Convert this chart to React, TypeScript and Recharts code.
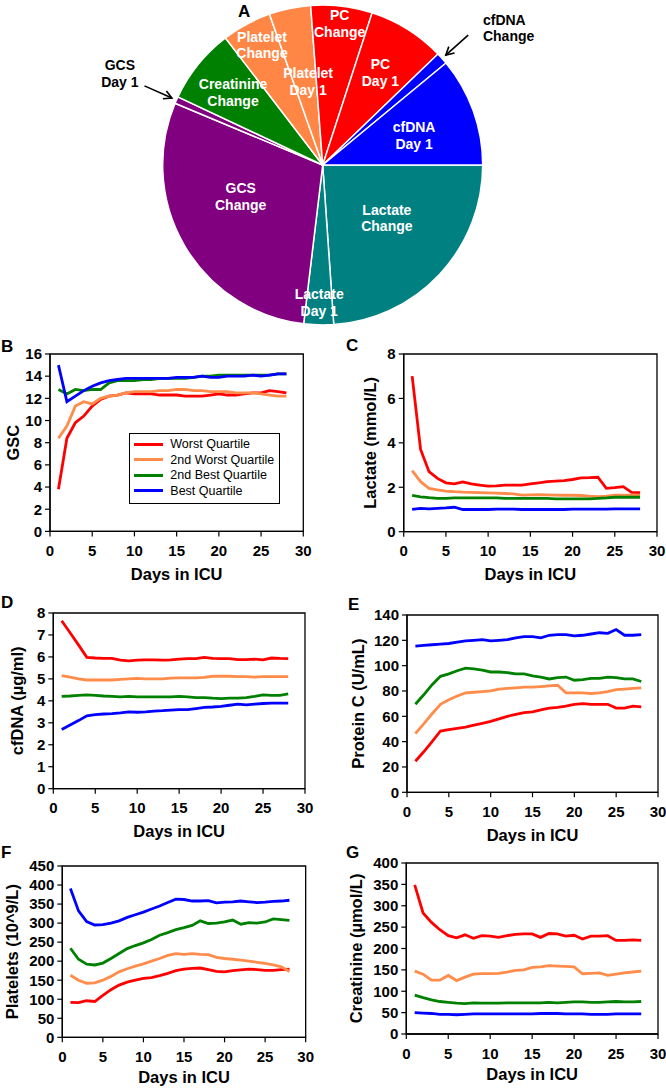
import React from 'react';
import { PieChart, Pie, Cell, LineChart, Line, XAxis, YAxis, ReferenceArea, Legend } from 'recharts';

const FONT = '"Liberation Sans", Arial, Helvetica, sans-serif';

// ---------- Pie (A) ----------
const pieNames = ['Lactate Change', 'Lactate Day 1', 'GCS Change', 'GCS Day 1', 'Creatinine Change', 'Platelet Change', 'Platelet Day 1', 'PC Change', 'PC Day 1', 'cfDNA Change', 'cfDNA Day 1'];
const pieValues = [23.9, 3.0, 29.4, 0.7, 7.6, 5.0, 4.2, 6.2, 7.8, 1.2, 11.0];
const pieColors = ['#008080', '#008080', '#800080', '#800080', '#008000', '#FF8644', '#FF8644', '#FF0000', '#FF0000', '#0000FF', '#0000FF'];

// ---------- Line panels ----------
const days = [1, 2, 3, 4, 5, 6, 7, 8, 9, 10, 11, 12, 13, 14, 15, 16, 17, 18, 19, 20, 21, 22, 23, 24, 25, 26, 27, 28];
const xTicks = [0, 5, 10, 15, 20, 25, 30];
const seriesKeys = ['worst', 'worst2', 'best2', 'best'];
const seriesNames = ['Worst Quartile', '2nd Worst Quartile', '2nd Best Quartile', 'Best Quartile'];
const seriesColors = ['#FF0000', '#FF8C4A', '#008000', '#0000FF'];

// B: GCS
const gcsWorst = [3.8, 8.4, 9.8, 10.4, 11.3, 11.9, 12.2, 12.3, 12.5, 12.4, 12.4, 12.4, 12.3, 12.3, 12.3, 12.2, 12.2, 12.2, 12.3, 12.4, 12.3, 12.3, 12.4, 12.5, 12.5, 12.7, 12.6, 12.5];
const gcsWorst2 = [8.4, 9.5, 11.3, 11.7, 11.5, 12.0, 12.2, 12.3, 12.5, 12.6, 12.6, 12.6, 12.7, 12.7, 12.8, 12.8, 12.7, 12.7, 12.6, 12.6, 12.6, 12.5, 12.5, 12.5, 12.4, 12.3, 12.2, 12.2];
const gcsBest2 = [12.8, 12.4, 12.8, 12.7, 12.8, 12.8, 13.4, 13.6, 13.6, 13.6, 13.7, 13.7, 13.8, 13.8, 13.8, 13.8, 13.9, 14.0, 14.0, 14.1, 14.1, 14.1, 14.1, 14.1, 14.1, 14.1, 14.2, 14.2];
const gcsBest = [15.0, 11.7, 12.2, 12.7, 13.1, 13.4, 13.6, 13.7, 13.8, 13.8, 13.8, 13.8, 13.8, 13.8, 13.9, 13.9, 13.9, 14.0, 13.9, 13.9, 14.0, 14.0, 14.0, 14.1, 14.0, 14.1, 14.2, 14.2];
const gcsTicks = [0, 2, 4, 6, 8, 10, 12, 14, 16];

// C: Lactate
const lacWorst = [7.0, 3.7, 2.7, 2.4, 2.2, 2.15, 2.24, 2.15, 2.1, 2.05, 2.06, 2.1, 2.1, 2.1, 2.15, 2.2, 2.25, 2.28, 2.3, 2.35, 2.42, 2.43, 2.45, 1.95, 1.98, 2.03, 1.77, 1.76];
const lacWorst2 = [2.75, 2.25, 1.95, 1.88, 1.83, 1.8, 1.78, 1.77, 1.76, 1.75, 1.74, 1.72, 1.7, 1.65, 1.66, 1.67, 1.66, 1.65, 1.64, 1.64, 1.63, 1.6, 1.58, 1.6, 1.65, 1.65, 1.65, 1.65];
const lacBest2 = [1.63, 1.57, 1.53, 1.5, 1.5, 1.52, 1.52, 1.52, 1.52, 1.52, 1.52, 1.5, 1.5, 1.5, 1.5, 1.5, 1.5, 1.48, 1.48, 1.48, 1.48, 1.48, 1.5, 1.52, 1.55, 1.55, 1.55, 1.55];
const lacBest = [1.0, 1.05, 1.03, 1.05, 1.07, 1.1, 1.0, 1.0, 1.0, 1.0, 1.02, 1.02, 1.02, 1.0, 1.0, 1.0, 1.0, 1.0, 1.0, 1.02, 1.02, 1.02, 1.02, 1.02, 1.03, 1.03, 1.03, 1.03];
const lacTicks = [0, 2, 4, 6, 8];

// D: cfDNA
const dnaWorst = [7.65, 7.1, 6.55, 5.98, 5.95, 5.93, 5.93, 5.85, 5.82, 5.85, 5.87, 5.87, 5.85, 5.87, 5.9, 5.92, 5.92, 5.98, 5.93, 5.92, 5.92, 5.88, 5.88, 5.9, 5.87, 5.95, 5.93, 5.92];
const dnaWorst2 = [5.15, 5.08, 5.0, 4.95, 4.95, 4.95, 4.95, 4.98, 5.0, 5.02, 5.0, 5.0, 5.0, 5.03, 5.05, 5.05, 5.05, 5.07, 5.12, 5.12, 5.12, 5.1, 5.1, 5.08, 5.1, 5.1, 5.1, 5.1];
const dnaBest2 = [4.2, 4.22, 4.25, 4.27, 4.25, 4.22, 4.2, 4.18, 4.2, 4.18, 4.18, 4.18, 4.18, 4.18, 4.2, 4.18, 4.15, 4.15, 4.12, 4.1, 4.12, 4.12, 4.15, 4.2, 4.27, 4.25, 4.25, 4.32];
const dnaBest = [2.7, 2.9, 3.1, 3.32, 3.37, 3.4, 3.42, 3.45, 3.5, 3.48, 3.5, 3.53, 3.55, 3.58, 3.6, 3.6, 3.65, 3.7, 3.72, 3.75, 3.8, 3.85, 3.82, 3.85, 3.88, 3.9, 3.9, 3.9];
const dnaTicks = [0, 1, 2, 3, 4, 5, 6, 7, 8];

// E: Protein C
const pcWorst = [24.5, 32, 40, 48.4, 49.5, 50.5, 51.5, 53, 54.5, 56, 58, 60, 61.5, 63, 63.5, 65, 66.5, 67, 68, 69.5, 70, 69.5, 69.5, 69.5, 66.5, 66.5, 68, 67.5];
const pcWorst2 = [46.3, 54, 62, 69.5, 73, 76, 78.5, 79, 79.5, 80, 81.5, 82, 82.5, 83, 83, 83.5, 84, 84.5, 78.5, 78.5, 78.5, 78, 78.5, 79.5, 81, 81.5, 82, 82.5];
const pcBest2 = [69.5, 77, 85, 91.6, 93.5, 96, 98, 97.5, 96.5, 95, 95, 94.5, 93.5, 93.5, 92, 91, 89.5, 90.5, 91, 88.5, 89, 90, 90, 91, 90.5, 89.5, 89.5, 87.5];
const pcBest = [115.5, 116, 116.5, 117, 117.5, 118.5, 119.5, 120, 120.5, 119.5, 120, 120.5, 122, 123, 123, 122, 124, 124.5, 124.5, 123.5, 124, 125, 126, 125.5, 128.5, 124, 124, 124.5];
const pcTicks = [0, 20, 40, 60, 80, 100, 120, 140];

// F: Platelets
const pltWorst = [92, 91, 96, 94, 110, 125, 137, 145, 150, 155, 157, 162, 168, 175, 179, 181, 182, 178, 173, 172, 175, 177, 179, 178, 176, 176, 178, 179];
const pltWorst2 = [163, 150, 142, 143, 150, 160, 172, 180, 187, 193, 200, 207, 215, 220, 218, 220, 218, 217, 210, 207, 205, 203, 200, 197, 194, 190, 185, 173];
const pltBest2 = [234, 205, 192, 190, 195, 207, 220, 233, 241, 248, 257, 268, 275, 283, 288, 294, 306, 299, 300, 303, 308, 297, 301, 300, 303, 311, 309, 307];
const pltBest = [391, 332, 304, 295, 296, 300, 306, 315, 322, 329, 337, 345, 354, 363, 362, 358, 358, 359, 353, 355, 356, 358, 356, 354, 355, 357, 358, 360];
const pltTicks = [0, 50, 100, 150, 200, 250, 300, 350, 400, 450];

// G: Creatinine
const crWorst = [349, 283, 261, 244, 230, 225, 232, 224, 230, 229, 226, 230, 233, 234, 234, 226, 235, 234, 229, 231, 222, 229, 229, 230, 219, 219, 220, 219];
const crWorst2 = [147, 140, 126, 126, 137, 125, 133, 140, 141, 141, 142, 145, 149, 150, 156, 157, 160, 159, 158, 157, 141, 142, 143, 137, 140, 143, 145, 147];
const crBest2 = [91, 85, 80, 76, 74, 72, 71, 73, 72, 72, 72, 73, 73, 73, 73, 73, 74, 73, 74, 75, 75, 74, 74, 75, 76, 75, 75, 76];
const crBest = [50, 49, 48, 46, 46, 45, 46, 47, 47, 47, 47, 47, 47, 47, 47, 48, 48, 48, 47, 47, 47, 46, 46, 46, 47, 47, 47, 47];
const crTicks = [0, 50, 100, 150, 200, 250, 300, 350, 400];

function build(a: number[], b: number[], c: number[], d: number[]) {
  return days.map((day, i) => ({ day, worst: a[i], worst2: b[i], best2: c[i], best: d[i] }));
}

const gcsData = build(gcsWorst, gcsWorst2, gcsBest2, gcsBest);
const lacData = build(lacWorst, lacWorst2, lacBest2, lacBest);
const dnaData = build(dnaWorst, dnaWorst2, dnaBest2, dnaBest);
const pcData = build(pcWorst, pcWorst2, pcBest2, pcBest);
const pltData = build(pltWorst, pltWorst2, pltBest2, pltBest);
const crData = build(crWorst, crWorst2, crBest2, crBest);
const pieData = pieNames.map((name, i) => ({ name, value: pieValues[i] }));

// label placement (fraction of radius, angle tweak); null = external label with arrow
const labelRadius: (number | null)[] = [0.52, 0.86, 0.55, null, 0.72, 0.84, 0.53, 0.89, 0.68, null, 0.6];
const labelShift = [3.5, 0, -9, 0, 0, -1.6, -2, 0, 0, 0, -2];

const RAD = Math.PI / 180;
function polar(cx: number, cy: number, r: number, a: number) {
  return { x: cx + r * Math.cos(-a * RAD), y: cy + r * Math.sin(-a * RAD) };
}

function splitName(n: string) {
  const k = n.indexOf(' ');
  return [n.slice(0, k), n.slice(k + 1)];
}

const renderPieLabel = (props: any) => {
  const { cx, cy, midAngle, outerRadius, index } = props;
  const [l1, l2] = splitName(pieNames[index]);
  const rf = labelRadius[index];
  if (rf !== null) {
    const p = polar(cx, cy, rf * outerRadius, midAngle + labelShift[index]);
    return (
      <text x={p.x} y={p.y} textAnchor="middle" fill="#fff" fontFamily={FONT} fontWeight="bold" fontSize={14}>
        <tspan x={p.x} dy={-3.4}>{l1}</tspan>
        <tspan x={p.x} dy={16.7}>{l2}</tspan>
      </text>
    );
  }
  const p0 = polar(cx, cy, outerRadius + 35, midAngle);
  const p1 = polar(cx, cy, outerRadius + 5, midAngle);
  const ang = Math.atan2(p0.y - p1.y, p0.x - p1.x);
  const h = 9;
  const a1 = { x: p1.x + h * Math.cos(ang + 0.5), y: p1.y + h * Math.sin(ang + 0.5) };
  const a2 = { x: p1.x + h * Math.cos(ang - 0.5), y: p1.y + h * Math.sin(ang - 0.5) };
  const leftSide = p0.x < cx;
  const tx = leftSide ? p0.x - 24.6 : p0.x + 14.8;
  const b1 = leftSide ? p0.y - 15.7 : p0.y - 10.6;
  return (
    <g>
      <line x1={p0.x} y1={p0.y} x2={p1.x} y2={p1.y} stroke="#000" strokeWidth={1.6} />
      <polyline points={`${a1.x},${a1.y} ${p1.x},${p1.y} ${a2.x},${a2.y}`} fill="none" stroke="#000" strokeWidth={1.6} />
      <text x={tx} y={b1} textAnchor={leftSide ? 'middle' : 'start'} fill="#000" fontFamily={FONT} fontWeight="bold" fontSize={14}>
        <tspan x={tx} dy={0}>{l1}</tspan>
        <tspan x={tx} dy={16.7}>{l2}</tspan>
      </text>
    </g>
  );
};

function LegendBox({ payload }: any) {
  const items = seriesNames.map((n, i) => {
    const found = (payload || []).find((p: any) => p.value === n);
    return { name: n, color: found ? found.color : seriesColors[i] };
  });
  return (
    <div style={{ width: 151, height: 71, border: '1.3px solid #000', background: '#fff', boxSizing: 'border-box', padding: '3px 0 0 4px', fontFamily: FONT, fontSize: 12.5, color: '#000' }}>
      {items.map((it) => (
        <div key={it.name} style={{ display: 'flex', alignItems: 'center', height: 15.4, whiteSpace: 'nowrap' }}>
          <div style={{ width: 29, height: 3, background: it.color, marginRight: 7 }} />
          <span>{it.name}</span>
        </div>
      ))}
    </div>
  );
}

type PlotBox = { l: number; t: number; r: number; b: number };

function Panel({ colX, plot, data, yMax, yTicks, yTitle, yTitleX, xTitleGap = 48.5, legendPos }: {
  colX: number; plot: PlotBox; data: any[]; yMax: number; yTicks: number[]; yTitle: string; yTitleX: number; xTitleGap?: number; legendPos?: { x: number; y: number };
}) {
  const mTop = 20;
  const top = plot.t - mTop;
  const width = Math.min(plot.r + 9, 666) - colX;
  const xAxisH = 56;
  const height = plot.b - top + xAxisH;
  const yAxisW = plot.l - colX;
  const tickStyle = { fill: '#000', fontSize: 15, fontWeight: 'bold', fontFamily: FONT };
  const titleX = yTitleX - colX;
  return (
    <div style={{ position: 'absolute', left: colX, top, width, height }}>
      <LineChart width={width} height={height} data={data} margin={{ top: mTop, right: width - (plot.r - colX), bottom: 0, left: 0 }}>
        <XAxis
          dataKey="day"
          type="number"
          domain={[0, 30]}
          ticks={xTicks}
          height={xAxisH}
          tick={tickStyle}
          tickSize={5}
          tickMargin={9}
          tickLine={{ stroke: '#000', strokeWidth: 1.2 }}
          axisLine={{ stroke: '#000', strokeWidth: 1.3 }}
          interval={0}
          label={(p: any) => {
            const vb = p.viewBox || {};
            return (
              <text x={vb.x + vb.width / 2} y={vb.y + xTitleGap} textAnchor="middle" fill="#000" fontFamily={FONT} fontWeight="bold" fontSize={16.5}>
                Days in ICU
              </text>
            );
          }}
        />
        <YAxis
          type="number"
          domain={[0, yMax]}
          ticks={yTicks}
          width={yAxisW}
          tick={tickStyle}
          tickSize={5}
          tickMargin={3}
          tickLine={{ stroke: '#000', strokeWidth: 1.2 }}
          axisLine={{ stroke: '#000', strokeWidth: 1.3 }}
          interval={0}
          label={(p: any) => {
            const vb = p.viewBox || {};
            const cy = vb.y + vb.height / 2;
            return (
              <text x={titleX} y={cy} dy="0.36em" transform={`rotate(-90, ${titleX}, ${cy})`} textAnchor="middle" fill="#000" fontFamily={FONT} fontWeight="bold" fontSize={16.5}>
                {yTitle}
              </text>
            );
          }}
        />
        <ReferenceArea x1={0} x2={30} y1={0} y2={yMax} fill="none" fillOpacity={0} stroke="#000" strokeWidth={1.3} />
        {seriesKeys.map((k, i) => (
          <Line key={k} type="linear" dataKey={k} name={seriesNames[i]} stroke={seriesColors[i]} strokeWidth={2.8} dot={false} activeDot={false} isAnimationActive={false} />
        ))}
        {legendPos && (
          <Legend
            layout="vertical"
            align="center"
            verticalAlign="middle"
            content={(p: any) => <LegendBox payload={p.payload} />}
            wrapperStyle={{ position: 'absolute', left: legendPos.x - colX, top: legendPos.y - top, width: 151, height: 71, margin: 0 }}
          />
        )}
      </LineChart>
    </div>
  );
}

const letters = [
  { t: 'A', x: 238, y: 17 },
  { t: 'B', x: 1, y: 352 },
  { t: 'C', x: 346, y: 351 },
  { t: 'D', x: 1, y: 608 },
  { t: 'E', x: 348, y: 610 },
  { t: 'F', x: 1, y: 858 },
  { t: 'G', x: 346, y: 858 },
];

export default function App() {
  return (
    <div style={{ position: 'absolute', left: 0, top: 0, width: 666, height: 1088, background: '#fff', overflow: 'hidden' }}>
      <div style={{ position: 'absolute', left: 0, top: 0, width: 666, height: 330 }}>
        <PieChart width={666} height={330} margin={{ top: 0, right: 0, bottom: 0, left: 0 }}>
          <Pie
            data={pieData}
            dataKey="value"
            nameKey="name"
            cx={322.7}
            cy={165}
            outerRadius={160}
            startAngle={0}
            endAngle={-360}
            stroke="#fff"
            strokeWidth={1.5}
            label={renderPieLabel}
            labelLine={false}
            isAnimationActive={false}
          >
            {pieData.map((d, i) => (
              <Cell key={d.name} fill={pieColors[i]} />
            ))}
          </Pie>
        </PieChart>
      </div>

      <Panel colX={0} plot={{ l: 50, t: 354.3, r: 303.3, b: 531.7 }} data={gcsData} yMax={16} yTicks={gcsTicks} yTitle="GSC" yTitleX={13.3} legendPos={{ x: 129.3, y: 432.7 }} />
      <Panel colX={333} plot={{ l: 403.7, t: 354, r: 657, b: 531.7 }} data={lacData} yMax={8} yTicks={lacTicks} yTitle="Lactate (mmol/L)" yTitleX={369.7} />
      <Panel colX={0} plot={{ l: 53.3, t: 613.3, r: 305, b: 789 }} data={dnaData} yMax={8} yTicks={dnaTicks} yTitle="cfDNA (µg/ml)" yTitleX={16.7} />
      <Panel colX={333} plot={{ l: 407, t: 614.7, r: 658, b: 792 }} data={pcData} yMax={140} yTicks={pcTicks} yTitle="Protein C (U/mL)" yTitleX={358} />
      <Panel colX={0} plot={{ l: 62.3, t: 866, r: 305.7, b: 1037.3 }} data={pltData} yMax={450} yTicks={pltTicks} yTitle="Platelets (10^9/L)" yTitleX={11.7} xTitleGap={46} />
      <Panel colX={333} plot={{ l: 406.3, t: 863.3, r: 658, b: 1034.3 }} data={crData} yMax={400} yTicks={crTicks} yTitle="Creatinine (µmol/L)" yTitleX={355.7} xTitleGap={46} />

      <svg width={666} height={1088} style={{ position: 'absolute', left: 0, top: 0, pointerEvents: 'none' }}>
        {letters.map((l) => (
          <text key={l.t} x={l.x} y={l.y} fill="#000" fontFamily={FONT} fontWeight="bold" fontSize={17}>
            {l.t}
          </text>
        ))}
      </svg>
    </div>
  );
}
